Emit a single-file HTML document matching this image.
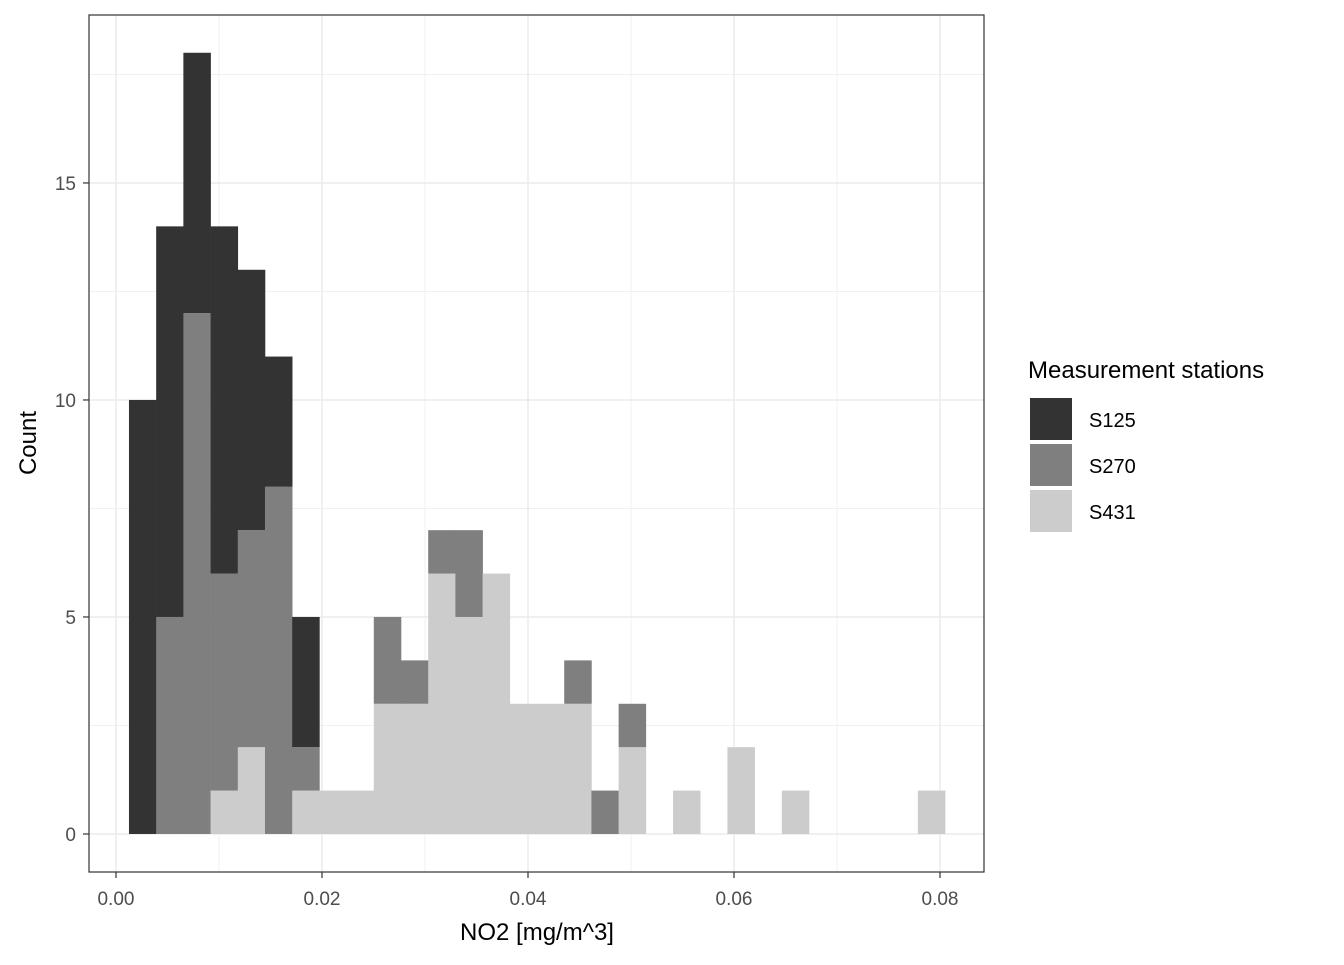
<!DOCTYPE html>
<html><head><meta charset="utf-8"><style>
body{margin:0;background:#fff;font-family:"Liberation Sans",Arial,sans-serif;}
svg text{font-family:"Liberation Sans",Arial,sans-serif;}
</style></head><body>
<svg id="chart" width="1344" height="960" xmlns="http://www.w3.org/2000/svg"></svg>
<script>
const binStart = 0.00126;
const binWidth = 0.002641;
const stationNames = ["S125","S270","S431"];
const s125Counts = [10,9,6,8,6,3,3,0,0,0,0,0,0,0,0,0,0,0,0,0,0,0,0,0,0,0,0,0,0,0];
const s270Counts = [0,5,12,5,5,8,1,0,0,2,1,1,2,0,0,0,1,1,1,0,0,0,0,0,0,0,0,0,0,0];
const s431Counts = [0,0,0,1,2,0,1,1,1,3,3,6,5,6,3,3,3,0,2,0,1,0,2,0,1,0,0,0,0,1];
const xTicks = [0,0.02,0.04,0.06,0.08];
const xTickLabels = ["0.00","0.02","0.04","0.06","0.08"];
const xMinor = [0.01,0.03,0.05,0.07];
const yTicks = [0,5,10,15];
const yMinor = [2.5,7.5,12.5,17.5];
const colors = ["#333333","#7f7f7f","#cccccc"];

const P = {l:89, r:984, t:15, b:872};
const xMin=-0.00262, xMax=0.08427, yMin=-0.876, yMax=18.87;
const X = v => P.l + (v-xMin)/(xMax-xMin)*(P.r-P.l);
const Y = v => P.b - (v-yMin)/(yMax-yMin)*(P.b-P.t);
const svg = document.getElementById('chart');
const NS="http://www.w3.org/2000/svg";
function mk(tag, attrs){const e=document.createElementNS(NS,tag);for(const k in attrs)e.setAttribute(k,attrs[k]);svg.appendChild(e);return e;}

yMinor.forEach(v=>{const l=mk('line',{x1:P.l,x2:P.r,y1:Y(v),y2:Y(v),stroke:'#f0f0f0','stroke-width':1});

});
xMinor.forEach(v=>{const l=mk('line',{x1:X(v),x2:X(v),y1:P.t,y2:P.b,stroke:'#f0f0f0','stroke-width':1});

});
yTicks.forEach(v=>{const l=mk('line',{x1:P.l,x2:P.r,y1:Y(v),y2:Y(v),stroke:'#ebebeb','stroke-width':1.5});

});
xTicks.forEach(v=>{const l=mk('line',{x1:X(v),x2:X(v),y1:P.t,y2:P.b,stroke:'#ebebeb','stroke-width':1.5});

});

const series=[s431Counts,s270Counts,s125Counts];
const seriesColor=[colors[2],colors[1],colors[0]];
const seriesName=["S431","S270","S125"];
for(let i=0;i<s125Counts.length;i++){
  let base=0;
  series.forEach((arr,si)=>{
    const c=arr[i]; if(c>0){
      const x0=X(binStart+i*binWidth), x1=X(binStart+(i+1)*binWidth);
      const r=mk('rect',{x:x0,y:Y(base+c),width:x1-x0+0.3,height:Y(base)-Y(base+c),fill:seriesColor[si]});
      
      
    }
    base+=c;
  });
}
const frame=mk('rect',{x:P.l,y:P.t,width:P.r-P.l,height:P.b-P.t,fill:'none',stroke:'#333','stroke-width':1.2});



xTicks.forEach((v,i)=>{
  const t=mk('line',{x1:X(v),x2:X(v),y1:P.b,y2:P.b+6,stroke:'#333','stroke-width':1.2});
  
  
  const tx=mk('text',{x:X(v),y:905,'text-anchor':'middle','font-size':19,fill:'#4d4d4d'});
  tx.textContent=xTickLabels[i];
  
  
});
yTicks.forEach(v=>{
  const t=mk('line',{x1:P.l-6,x2:P.l,y1:Y(v),y2:Y(v),stroke:'#333','stroke-width':1.2});
  
  
  const tx=mk('text',{x:76,y:Y(v)+7,'text-anchor':'end','font-size':19,fill:'#4d4d4d'});
  tx.textContent=String(v);
  
  
});
const xt=mk('text',{x:537,y:940,'text-anchor':'middle','font-size':24,fill:'#000'});
xt.textContent='NO2 [mg/m^3]';


const yt=mk('text',{x:36,y:443,'text-anchor':'middle','font-size':24,fill:'#000',transform:'rotate(-90 36 443)'});
yt.textContent='Count';



const lt=mk('text',{x:1028,y:378,'font-size':24,fill:'#000'});
lt.textContent='Measurement stations';


stationNames.forEach((n,i)=>{
  const y0=398+i*46;
  const k=mk('rect',{x:1030,y:y0,width:42,height:42,fill:colors[i]});
  
  
  const t=mk('text',{x:1089,y:y0+29,'font-size':20,fill:'#000'});
  t.textContent=n;
  
  
});
</script>
</body></html>
